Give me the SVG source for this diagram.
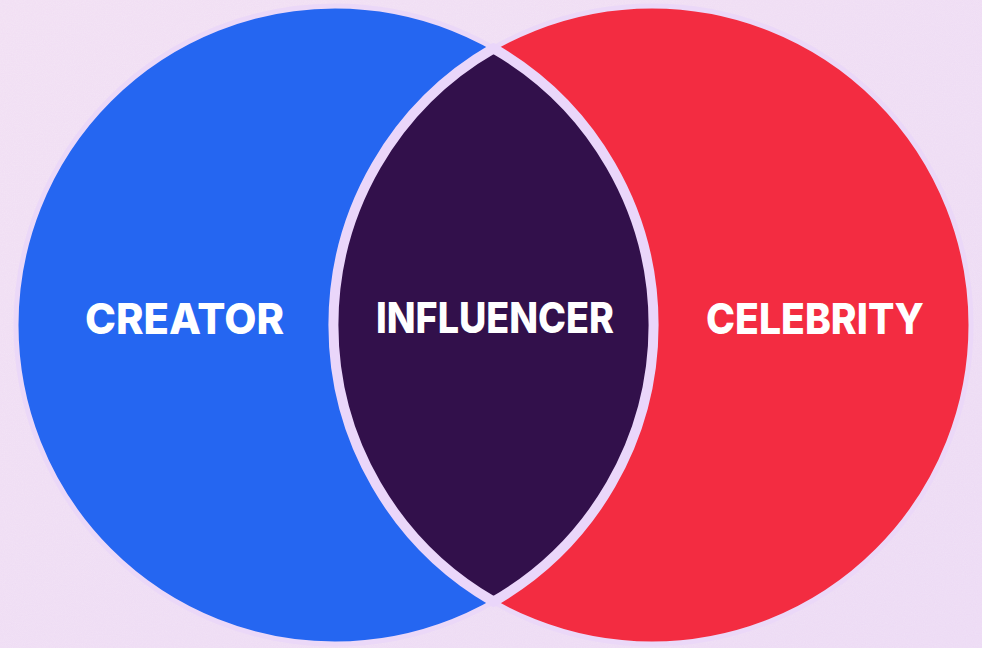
<svg xmlns="http://www.w3.org/2000/svg" width="982" height="648" viewBox="0 0 982 648">
  <defs>
    <filter id="grain" x="0" y="0" width="100%" height="100%">
      <feTurbulence type="fractalNoise" baseFrequency="0.9" numOctaves="2" seed="3" result="noise"/>
      <feColorMatrix in="noise" type="matrix" values="0 0 0 0 1  0 0 0 0 1  0 0 0 0 1  0 0 0 0.18 0" result="speck"/>
      <feComposite in="speck" in2="SourceGraphic" operator="over"/>
    </filter>
    <linearGradient id="bg" x1="0" y1="0" x2="1" y2="1">
      <stop offset="0" stop-color="#f1def3"/>
      <stop offset="1" stop-color="#ecd9f4"/>
    </linearGradient>
  </defs>
  <style>
    .rim { stroke: #ebd8f8; stroke-width: 5; }
    .lens { stroke: #ead6fa; stroke-width: 10; }
    .label { font-family: "Inter", "Liberation Sans", sans-serif; font-weight: 800; font-size: 43px; fill: #ffffff; text-anchor: middle; }
  </style>

  <!-- textured lavender backdrop -->
  <rect width="982" height="648" fill="url(#bg)" filter="url(#grain)"/>

  <g id="creator">
    <circle class="rim" cx="335" cy="325" r="319" fill="#2566f1"/>
  </g>
  <g id="celebrity">
    <circle class="rim" cx="652" cy="325" r="319" fill="#f32c41"/>
  </g>
  <!-- overlap lens: right arc from the left circle, left arc from the right circle -->
  <g id="influencer">
    <path class="lens" fill="#32104b" d="M 493.5 48.4 A 319 319 0 0 1 493.5 601.6 A 319 319 0 0 1 493.5 48.4 Z"/>
  </g>

  <g id="labels">
    <text class="label" x="184.5" y="334" textLength="199" lengthAdjust="spacingAndGlyphs">CREATOR</text>
    <text class="label" x="495" y="333" textLength="238" lengthAdjust="spacingAndGlyphs">INFLUENCER</text>
    <text class="label" x="815" y="334" textLength="218" lengthAdjust="spacingAndGlyphs">CELEBRITY</text>
  </g>
</svg>
